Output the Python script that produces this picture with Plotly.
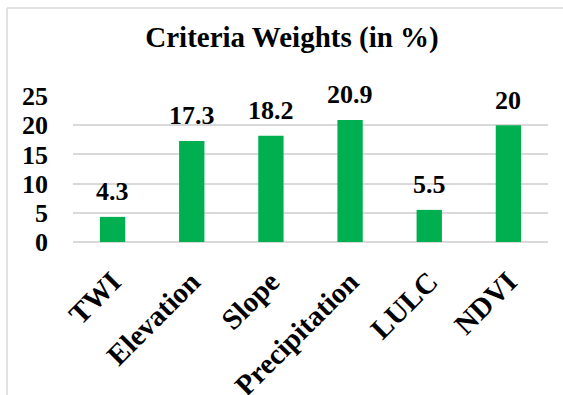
import plotly.graph_objects as go

# Criteria weights used in the analysis
criteria = ["TWI", "Elevation", "Slope", "Precipitation", "LULC", "NDVI"]
weights = [4.3, 17.3, 18.2, 20.9, 5.5, 20]
y_ticks = [0, 5, 10, 15, 20, 25]

FONT = "Liberation Serif"
GREEN = "#00B050"
GRID = "#d9d9d9"

W, H = 563, 395
ML, MR, MT, MB = 73, 15, 96, 153
pw, ph = W - ML - MR, H - MT - MB

fig = go.Figure(
    go.Bar(
        x=criteria,
        y=weights,
        marker=dict(color=GREEN, line=dict(width=0)),
        width=0.32,
        hoverinfo="x+y",
    )
)

# Value labels above bars
for c, v in zip(criteria, weights):
    fig.add_annotation(
        x=c, y=v, text=f"{v:g}", showarrow=False,
        yanchor="middle", yshift=25,
        font=dict(family=FONT, size=26, color="black", weight="bold"),
    )

# Outer chart frame (left and top edges)
fx = (7 - ML) / pw
fy = 1 + (MT - 8) / ph
fig.add_shape(type="line", xref="paper", yref="paper",
              x0=fx, x1=fx, y0=-2, y1=fy, line=dict(color=GRID, width=1.5))
fig.add_shape(type="line", xref="paper", yref="paper",
              x0=fx, x1=3, y0=fy, y1=fy, line=dict(color=GRID, width=1.5))

fig.update_layout(
    width=W, height=H,
    margin=dict(l=ML, r=MR, t=MT, b=MB, autoexpand=False),
    paper_bgcolor="white", plot_bgcolor="white",
    showlegend=False,
    title=dict(
        text="Criteria Weights (in %)",
        x=292 / W, xanchor="center",
        y=1 - 37 / H, yanchor="middle", yref="container",
        font=dict(family=FONT, size=29, color="black", weight="bold"),
    ),
    xaxis=dict(
        tickangle=-45,
        tickfont=dict(family=FONT, size=29, color="black", weight="bold"),
        showline=False, showgrid=False,
        ticklabelstandoff=16,
        automargin=False,
    ),
    yaxis=dict(
        range=[0, 25],
        tickvals=y_ticks,
        tickfont=dict(family=FONT, size=26, color="black", weight="bold"),
        showgrid=True, gridcolor=GRID, gridwidth=1.5,
        zeroline=True, zerolinecolor=GRID, zerolinewidth=1.5,
        showline=False,
        ticklabelstandoff=24,
        automargin=False,
    ),
)

fig.write_html("out.html")
